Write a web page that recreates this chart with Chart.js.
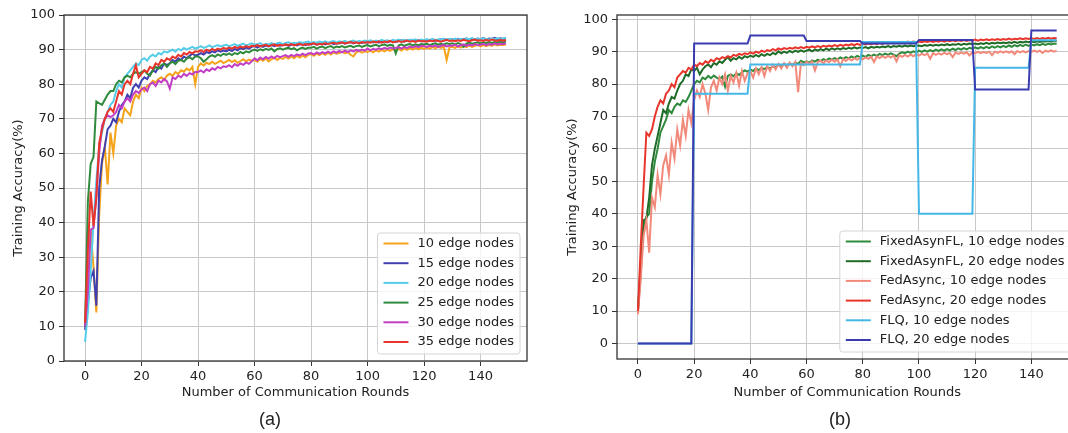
<!DOCTYPE html>
<html>
<head>
<meta charset="utf-8">
<script src="https://cdn.jsdelivr.net/npm/chart.js@4.4.1/dist/chart.umd.min.js"></script>
<style>
  html, body { margin: 0; padding: 0; background: #fff; }
  body { width: 1068px; height: 433px; overflow: hidden; position: relative; }
  canvas { position: absolute; top: 0; }
  #chartA { left: 0; }
  #chartB { left: 552px; }
  .cap { position: absolute; top: 409px; line-height: 20px; font: 18px "Liberation Sans", Arial, sans-serif; color: #222; transform: translateX(-50%); }
</style>
</head>
<body>
<canvas id="chartA" width="540" height="433"></canvas>
<canvas id="chartB" width="540" height="433"></canvas>
<div class="cap" style="left:270px">(a)</div>
<div class="cap" style="left:840px">(b)</div>
<script>
// x positions (communication rounds) and axis ticks
const rounds = Array.from({ length: 150 }, (_, i) => i);
const xTicks = [0, 20, 40, 60, 80, 100, 120, 140];
const yTicks = [0, 10, 20, 30, 40, 50, 60, 70, 80, 90, 100];

// ---- (a) number of edge nodes ----
const labelsA = ['10 edge nodes', '15 edge nodes', '20 edge nodes', '25 edge nodes', '30 edge nodes', '35 edge nodes'];
const colorsA = ['#f5a31a', '#4040b0', '#55cde8', '#2f8a3c', '#c23fc5', '#e8352b'];

const nodes10 = [
  10, 22, 38, 27, 14, 42, 57, 62, 51, 66,
  60, 68, 70, 69, 73, 72, 71, 75, 77, 76,
  79, 78, 79.5, 80, 81, 80.5, 81.5, 82, 81.2, 82.5,
  83, 82.4, 83.5, 83, 84, 83.6, 84.5, 84, 85, 80,
  85, 86, 85.4, 86.2, 85.8, 86.5, 85.9, 86.3, 86.8, 86.1,
  86.5, 87, 86.4, 86.9, 86.2, 86.7, 87.2, 86.6, 87.1, 86.8,
  87, 86.5, 87.3, 86.8, 87.5, 86.6, 87.2, 87.7, 87, 87.6,
  87.3, 87.9, 87.4, 88, 87.5, 88.2, 87.7, 88.3, 87.8, 88.5,
  88.7, 88.2, 88.8, 88.4, 89, 88.5, 89.1, 88.6, 89.2, 88.8,
  89, 89.4, 88.9, 89.3, 88.5, 88, 89.2, 89.6, 89.1, 89.5,
  89.3, 89.7, 89.2, 89.8, 89.4, 89.9, 89.5, 90, 89.6, 90.1,
  89.8, 90.2, 89.7, 90.3, 89.9, 90.4, 90, 90.5, 90.1, 90.6,
  90.2, 90.6, 90.3, 90.7, 90.4, 90.8, 90.5, 90.9, 87, 90.6,
  90.8, 90.5, 91, 90.6, 91.1, 90.7, 91.2, 90.8, 91.1, 91.3,
  90.9, 91.3, 91, 91.4, 91.1, 91.5, 91.2, 91.4, 91.3, 91.5
];
const nodes15 = [
  9, 17, 24, 26, 16, 50, 58, 62, 67, 68,
  70, 69, 72, 74, 75, 77, 76, 79, 80, 79,
  81, 82, 81.5, 83, 84, 83.5, 85, 84.5, 86, 85.5,
  86, 87, 86.5, 87.5, 87, 88, 87.5, 88.2, 88.8, 88.3,
  88.5, 89, 88.6, 89.3, 89, 89.5, 89.2, 89.8, 89.4, 89.7,
  89.5, 90, 89.6, 90.2, 89.8, 90.4, 90.1, 90.6, 90.3, 90.8,
  91, 90.6, 91.1, 90.8, 91.2, 90.9, 91.3, 91, 91.4, 91.1,
  91.3, 91.5, 91.1, 91.4, 91.6, 91.2, 91.5, 91.7, 91.3, 91.6,
  91.5, 91.8, 91.4, 91.7, 91.9, 91.5, 91.8, 92, 91.6, 91.9,
  91.8, 92.1, 91.7, 92, 92.2, 91.8, 92.1, 92.3, 91.9, 92.2,
  92, 92.3, 92.1, 92.4, 92, 92.3, 92.5, 92.1, 92.4, 92.6,
  92.2, 92.5, 92.7, 92.3, 92.6, 92.4, 92.8, 92.5, 92.7, 92.4,
  92.5, 92.8, 92.6, 92.9, 92.5, 92.8, 93, 92.6, 92.9, 92.7,
  93, 92.7, 93.1, 92.8, 93, 93.2, 92.8, 93.1, 92.9, 93.2,
  93, 93.3, 92.9, 93.2, 93.1, 93.4, 93, 93.3, 93.1, 93.3
];
const nodes20 = [
  5.5, 14, 26, 40, 52, 62, 66, 70, 72, 74,
  75, 78, 80, 79, 82, 83, 84, 85, 86, 85.5,
  87, 87.5, 86.8, 88, 88.5, 88, 89, 88.6, 89.5, 89.2,
  89.6, 90, 89.4, 90.2, 89.8, 90.5, 90, 90.4, 90.8, 90.3,
  90.6, 91, 90.5, 90.8, 91.2, 90.7, 91, 91.3, 90.9, 91.2,
  91.4, 91, 91.3, 91.6, 91.1, 91.4, 91.7, 91.2, 91.5, 91.8,
  91.4, 91.6, 91.9, 91.3, 91.7, 91.5, 91.9, 91.6, 91.8, 92,
  91.6, 91.9, 92.1, 91.7, 92, 91.8, 92.2, 91.9, 92.1, 92.3,
  91.9, 92.2, 92, 92.3, 92.1, 92.4, 92, 92.3, 92.5, 92.1,
  92.4, 92.2, 92.5, 92.1, 92.4, 92.6, 92.2, 92.5, 92.3, 92.6,
  92.4, 92.7, 92.3, 92.6, 92.4, 92.8, 92.5, 92.7, 92.4, 92.8,
  92.6, 92.9, 92.5, 92.8, 92.6, 92.9, 92.7, 93, 92.6, 92.9,
  92.7, 93, 92.8, 93.1, 92.7, 93, 92.8, 93.2, 92.9, 93.1,
  92.8, 93.2, 92.9, 93.1, 92.8, 93.2, 93, 93.3, 92.9, 93.2,
  93, 93.3, 93.1, 92.9, 93.2, 93, 93.3, 93.1, 93.2, 93.4
];
const nodes25 = [
  10, 46, 57, 59, 75, 74.5, 74, 75.5, 77, 78,
  78, 80, 81, 80.5, 82, 82.5, 82, 83, 83.5, 83,
  83.5, 84, 83, 82.5, 84, 85, 84.5, 85.5, 86, 85,
  86, 86.5, 85.8, 86.8, 87, 86.5, 87.4, 87.8, 87.2, 88,
  88, 87.5, 86.5, 87.2, 88, 88.4, 87.9, 88.6, 88.2, 88.8,
  88.5, 88.9, 88.4, 89, 88.7, 89.3, 88.9, 89.5, 89.2, 89.7,
  90, 89.6, 90.1, 89.8, 90.2, 89.9, 90.3, 89.5, 90.1, 90.4,
  90, 90.3, 90.5, 90.1, 90.4, 89.8, 90.3, 90.6, 90.2, 90.5,
  90.5, 90.8, 90.3, 90.7, 90.9, 90.4, 90.8, 91, 90.5, 90.9,
  90.7, 91, 90.6, 90.9, 91.1, 90.7, 91, 91.2, 90.8, 91.1,
  91.3, 90.9, 91.2, 91.4, 91, 91.3, 91.5, 91.1, 91.4, 91.2,
  88.9, 91.2, 91.5, 91.1, 91.4, 91.6, 91.2, 91.5, 91.3, 91.6,
  91.5, 91.7, 91.3, 91.6, 91.8, 91.4, 91.7, 91.5, 91.8, 91.6,
  91.8, 91.5, 91.9, 91.6, 90.8, 91.7, 92, 91.7, 91.9, 92.1,
  91.8, 92.1, 91.9, 92.2, 91.9, 92.2, 92, 92.3, 92.1, 92.4
];
const nodes30 = [
  10, 20, 38, 38.5, 48, 60, 68, 70, 71, 70.5,
  71, 72, 74, 73, 75, 76, 75, 77, 78, 77.5,
  78.5, 79, 78, 80, 80.5, 79.5, 81, 80.5, 81.5, 80.8,
  78.7, 82, 81.5, 82.5, 82, 83, 82.4, 83.2, 82.8, 83.5,
  83.5, 84, 83.4, 84.3, 83.8, 84.6, 84.2, 85, 84.6, 85.2,
  85, 85.5, 84.9, 85.8, 85.3, 86, 85.6, 86.3, 85.9, 86.6,
  87.5, 86.9, 87.7, 87.2, 87.9, 87.4, 88, 87.5, 88.2, 87.8,
  88.1, 88.4, 87.9, 88.5, 88.1, 88.6, 88.3, 88.8, 88.4, 88.9,
  89, 88.6, 89.2, 88.8, 89.3, 88.9, 89.4, 89, 89.5, 89.1,
  89.6, 89.2, 89.7, 89.3, 89.8, 89.5, 89.9, 89.6, 90, 89.7,
  90.3, 89.8, 90.2, 90, 90.4, 90.1, 90.5, 90.2, 90.6, 90.3,
  90.5, 90.7, 90.3, 90.8, 90.4, 90.9, 90.6, 91, 90.7, 91.1,
  91, 90.8, 91.1, 90.9, 91.2, 90.8, 91.1, 91.3, 90.9, 91.2,
  91.1, 91.4, 90.9, 91.3, 91.5, 91.1, 91.4, 91.2, 91.6, 91.3,
  91.4, 91.7, 91.3, 91.6, 91.4, 91.8, 91.5, 91.7, 91.6, 91.8
];
const nodes35 = [
  11, 32, 49, 39, 47, 63, 67, 70, 72, 73,
  72, 75, 78, 77, 80, 81, 80, 83, 85.5, 82,
  83, 84, 83.5, 85, 84.5, 86, 85.5, 87, 86.5, 87.5,
  87, 88, 87.5, 88.5, 88, 89, 88.6, 89.3, 88.9, 89.5,
  89.4, 89.8, 89.3, 90, 89.6, 90.2, 89.8, 90.3, 90, 90.5,
  90.2, 90.6, 90.3, 90.8, 90.4, 90.9, 90.6, 91, 90.7, 91.1,
  91, 91.3, 90.9, 91.2, 91.4, 91, 91.3, 91.5, 91.1, 91.4,
  91.2, 91.5, 91.3, 91.6, 91.2, 91.5, 91.7, 91.3, 91.6, 91.4,
  91.6, 91.8, 91.4, 91.7, 91.5, 91.9, 91.6, 91.8, 92, 91.7,
  91.9, 92.1, 91.8, 92, 92.2, 91.9, 92.1, 91.8, 92.2, 92,
  92.2, 92, 92.3, 92.1, 92.4, 92, 92.3, 92.2, 92.5, 92.1,
  92.3, 92.5, 92.2, 92.4, 92.6, 92.3, 92.5, 92.2, 92.6, 92.4,
  92.5, 92.3, 92.6, 92.4, 92.7, 92.5, 92.3, 92.6, 92.8, 92.5,
  92.6, 92.4, 92.7, 92.5, 92.8, 92.6, 92.4, 92.7, 92.9, 92.6,
  92.7, 92.5, 92.8, 92.6, 92.9, 92.7, 92.5, 92.8, 92.6, 92.8
];

// ---- (b) method comparison ----
const labelsB = ['FixedAsynFL, 10 edge nodes', 'FixedAsynFL, 20 edge nodes', 'FedAsync, 10 edge nodes',
                 'FedAsync, 20 edge nodes', 'FLQ, 10 edge nodes', 'FLQ, 20 edge nodes'];
const colorsB = ['#2f8a3c', '#1f6b28', '#f28a7c', '#e8352b', '#45b7e6', '#3b3bb0'];

const fixed10 = [
  10, 22, 36, 39, 40, 50, 56, 60, 65, 67,
  69, 72, 71, 73, 74, 73.5, 75, 74.5, 76, 78,
  80, 81, 80.5, 82, 81.5, 82.5, 81.8, 82.6, 82, 81.5,
  82.3, 79.2, 82.5, 83, 82.4, 83.3, 82.8, 83.6, 84.2, 83.8,
  84.5, 84, 84.8, 84.3, 85, 84.6, 85.2, 84.8, 85.5, 85.1,
  86, 85.6, 86.2, 85.8, 86.4, 86, 86.6, 86.2, 87.2, 86.7,
  87, 86.6, 87.3, 86.9, 87.5, 87.1, 87.7, 87.3, 87.9, 87.5,
  88, 87.6, 88.2, 87.8, 88.3, 87.9, 88.5, 88.1, 88.7, 88.3,
  88.8, 88.4, 89, 88.6, 89.1, 88.7, 89.3, 88.9, 89.4, 89,
  89.5, 89.1, 88.6, 89.4, 89.8, 89.5, 90, 89.6, 90.1, 89.8,
  90.3, 89.9, 90.4, 90, 90.5, 90.1, 90.6, 90.2, 90.7, 90.3,
  90.8, 90.4, 90.9, 90.5, 91, 90.6, 91.1, 90.7, 91.2, 90.9,
  91.3, 90.9, 91.4, 91, 91.5, 91.1, 91.6, 91.2, 91.7, 91.3,
  91.8, 91.4, 91.9, 91.5, 92, 91.6, 92.1, 91.7, 92.2, 91.8,
  92.2, 91.9, 92.3, 92, 92.4, 92.1, 92.4, 92.2, 92.5, 92.4
];
const fixed20 = [
  10, 25, 38, 38.5, 45, 55, 60, 64, 68, 72,
  71, 74, 76, 75.5, 78, 80, 81, 83, 82.5, 84.5,
  84, 85, 83, 84.5, 85.5, 86, 85.2, 86.5, 86, 87,
  86.5, 87.5, 88.3, 87.2, 88, 87.6, 88.4, 87.8, 88.6, 88.2,
  88.8, 88.4, 89, 88.5, 89.2, 88.7, 89.3, 88.9, 89.6, 89.2,
  90.1, 89.5, 90, 89.6, 90.2, 89.8, 90.3, 89.9, 90.4, 90,
  90.3, 90.6, 90.1, 90.7, 90.3, 90.8, 90.4, 90.9, 90.5, 91,
  90.6, 91, 90.7, 91.1, 90.8, 91.2, 90.9, 91.3, 91, 91.3,
  91.1, 91.4, 91, 91.5, 91.2, 91.5, 91.3, 91.6, 91.4, 91.7,
  91.4, 91.7, 91.5, 91.8, 91.5, 91.9, 91.6, 91.9, 91.7, 91.8,
  91.9, 91.7, 92, 91.8, 92.1, 91.8, 92.1, 91.9, 92.2, 92,
  92.3, 92, 92.3, 92.1, 92.4, 92.1, 92.4, 92.2, 92.5, 92.3,
  92.5, 92.3, 92.6, 92.4, 92.7, 92.4, 92.7, 92.5, 92.8, 92.6,
  92.8, 92.6, 92.9, 92.7, 93, 92.7, 93, 92.8, 93.1, 92.9,
  93.1, 92.9, 93.2, 93, 93.2, 93.1, 93.3, 93.1, 93.4, 93.3
];
const fedAsync10 = [
  9, 20, 33, 38, 28, 45, 42, 52, 46, 55,
  58, 52, 62, 57, 66, 61, 69, 64, 72, 68,
  75, 78, 76, 80, 77, 72, 79, 81, 78, 82,
  80, 83, 78, 82.5, 80.5, 83.5, 79.5, 84, 81, 83.2,
  84, 82, 84.8, 83, 85.2, 82.5, 85.5, 84, 86, 84.5,
  86.2, 84.8, 86.4, 85, 86.6, 85.5, 86.8, 77.5, 86.5, 85.8,
  86.9, 86.2, 87, 84.2, 86.8, 87.2, 86.4, 87.3, 86.7, 87.5,
  86.9, 87.6, 85.5, 87.7, 87.1, 87.9, 87.3, 88, 87.5, 88.1,
  87.6, 88.2, 87.8, 88.4, 86.8, 88.5, 88, 88.6, 88.1, 88.7,
  88.2, 88.8, 87, 88.9, 88.4, 89, 88.5, 89.1, 88.6, 89.3,
  88.8, 89.3, 88.9, 89.4, 87.8, 89.5, 89, 89.5, 89.1, 89.6,
  89.2, 89.6, 88.3, 89.7, 89.3, 89.7, 89.4, 89.8, 88.8, 89.8,
  89.5, 89.9, 89.5, 89.9, 89.6, 90, 88.9, 90, 89.6, 90.1,
  89.7, 90.1, 89.7, 90.1, 89.2, 90.2, 89.8, 90.2, 89.8, 90.2,
  89.9, 90.3, 89.9, 90.3, 89.6, 90.3, 90, 90.4, 90, 90.3
];
const fedAsync20 = [
  10, 30, 48, 65, 64, 66, 70, 73, 75, 74,
  77, 78, 80, 79, 82, 83, 84, 83.5, 85, 84.5,
  86, 85.5, 86.5, 86, 87, 86.5, 87.5, 87, 88, 87.6,
  88.3, 88, 88.6, 88.2, 89, 88.7, 89.3, 89, 89.5, 89.2,
  89.8, 89.4, 90, 89.6, 90.3, 89.9, 90.5, 90.2, 90.8, 90.4,
  91, 90.6, 91.1, 90.8, 91.2, 90.9, 91.3, 91, 91.4, 91.1,
  91.5, 91.2, 91.6, 91.3, 91.7, 91.4, 91.8, 91.5, 91.9, 91.6,
  92, 91.7, 92.1, 91.8, 92.2, 91.9, 92.3, 92, 92.4, 92.1,
  92.4, 92.2, 92.5, 92.3, 92.6, 92.3, 92.7, 92.4, 92.8, 92.5,
  92.8, 92.6, 92.9, 92.6, 93, 92.7, 93.1, 92.8, 93.1, 92.9,
  93.1, 92.9, 93.2, 93, 93.3, 93, 93.3, 93.1, 93.4, 93.1,
  93.4, 93.2, 93.5, 93.2, 93.5, 93.3, 93.6, 93.3, 93.6, 93.4,
  93.7, 93.4, 93.7, 93.5, 93.8, 93.5, 93.8, 93.6, 93.9, 93.6,
  93.9, 93.7, 94, 93.7, 94, 93.8, 94.1, 93.8, 94.1, 93.9,
  94.1, 93.9, 94.2, 93.9, 94.2, 94, 94.3, 94, 94.2, 94.1
];
const flq10 = [
  0, 0, 0, 0, 0, 0, 0, 0, 0, 0,
  0, 0, 0, 0, 0, 0, 0, 0, 0, 0,
  77, 77, 77, 77, 77, 77, 77, 77, 77, 77,
  77, 77, 77, 77, 77, 77, 77, 77, 77, 77,
  86, 86, 86, 86, 86, 86, 86, 86, 86, 86,
  86, 86, 86, 86, 86, 86, 86, 86, 86, 86,
  86, 86, 86, 86, 86, 86, 86, 86, 86, 86,
  86, 86, 86, 86, 86, 86, 86, 86, 86, 86,
  93, 93, 93, 93, 93, 93, 93, 93, 93, 93,
  93, 93, 93, 93, 93, 93, 93, 93, 93, 93,
  40, 40, 40, 40, 40, 40, 40, 40, 40, 40,
  40, 40, 40, 40, 40, 40, 40, 40, 40, 40,
  85, 85, 85, 85, 85, 85, 85, 85, 85, 85,
  85, 85, 85, 85, 85, 85, 85, 85, 85, 85,
  93.5, 93.5, 93.5, 93.5, 93.5, 93.5, 93.5, 93.5, 93.5, 93.5
];
const flq20 = [
  0, 0, 0, 0, 0, 0, 0, 0, 0, 0,
  0, 0, 0, 0, 0, 0, 0, 0, 0, 0,
  92.5, 92.5, 92.5, 92.5, 92.5, 92.5, 92.5, 92.5, 92.5, 92.5,
  92.5, 92.5, 92.5, 92.5, 92.5, 92.5, 92.5, 92.5, 92.5, 92.5,
  95, 95, 95, 95, 95, 95, 95, 95, 95, 95,
  95, 95, 95, 95, 95, 95, 95, 95, 95, 95,
  93.3, 93.3, 93.3, 93.3, 93.3, 93.3, 93.3, 93.3, 93.3, 93.3,
  93.3, 93.3, 93.3, 93.3, 93.3, 93.3, 93.3, 93.3, 93.3, 93.3,
  92.5, 92.5, 92.5, 92.5, 92.5, 92.5, 92.5, 92.5, 92.5, 92.5,
  92.5, 92.5, 92.5, 92.5, 92.5, 92.5, 92.5, 92.5, 92.5, 92.5,
  93.6, 93.6, 93.6, 93.6, 93.6, 93.6, 93.6, 93.6, 93.6, 93.6,
  93.6, 93.6, 93.6, 93.6, 93.6, 93.6, 93.6, 93.6, 93.6, 93.6,
  78.3, 78.3, 78.3, 78.3, 78.3, 78.3, 78.3, 78.3, 78.3, 78.3,
  78.3, 78.3, 78.3, 78.3, 78.3, 78.3, 78.3, 78.3, 78.3, 78.3,
  96.5, 96.5, 96.5, 96.5, 96.5, 96.5, 96.5, 96.5, 96.5, 96.5
];

const FONT = '13px "DejaVu Sans"';
const tickFont = { family: 'DejaVu Sans', size: 13 };
const textColor = '#222';

// draws the full axes box and a matplotlib-like legend in the lower right corner
const frameAndLegend = {
  id: 'frameAndLegend',
  afterDatasetsDraw(chart) {
    const { ctx, chartArea: a } = chart;
    ctx.save();
    ctx.strokeStyle = '#333';
    ctx.lineWidth = 1.3;
    ctx.strokeRect(a.left, a.top, a.right - a.left, a.bottom - a.top);

    const sets = chart.data.datasets;
    ctx.font = FONT;
    const textW = Math.max(...sets.map(d => ctx.measureText(d.label).width));
    const rowH = 19.7;
    const w = 40 + textW + 6;
    const h = 10.5 + rowH * (sets.length - 1) + 12;
    const x = a.right - 7 - w;
    const y = a.bottom - 7 - h;
    ctx.beginPath();
    ctx.roundRect(x, y, w, h, 3);
    ctx.fillStyle = 'rgba(255,255,255,0.8)';
    ctx.fill();
    ctx.strokeStyle = '#d4d4d4';
    ctx.lineWidth = 1;
    ctx.stroke();
    ctx.textBaseline = 'middle';
    ctx.textAlign = 'left';
    sets.forEach((d, i) => {
      const cy = y + 10.5 + i * rowH;
      ctx.strokeStyle = d.borderColor;
      ctx.lineWidth = 2;
      ctx.beginPath();
      ctx.moveTo(x + 6, cy);
      ctx.lineTo(x + 31, cy);
      ctx.stroke();
      ctx.fillStyle = textColor;
      ctx.fillText(d.label, x + 40, cy);
    });
    ctx.restore();
  }
};

function makeChart(id, labels, colors, series, yMin, yMax, yAxisWidth, yTitleGap, xAxisHeight, rightPad) {
  return new Chart(document.getElementById(id), {
    type: 'line',
    data: {
      datasets: series.map((vals, i) => ({
        label: labels[i],
        data: vals.map((v, j) => ({ x: rounds[j], y: v })),
        borderColor: colors[i],
        borderWidth: 2,
        pointRadius: 0,
        tension: 0,
        fill: false,
        order: series.length - i
      }))
    },
    options: {
      responsive: false,
      animation: false,
      devicePixelRatio: 1,
      layout: { padding: { left: 0, top: 15, right: rightPad, bottom: 33 } },
      plugins: { legend: { display: false }, tooltip: { enabled: false } },
      scales: {
        x: {
          type: 'linear',
          min: -7.45,
          max: 156.45,
          afterBuildTicks: s => { s.ticks = xTicks.map(v => ({ value: v })); },
          afterFit: s => { s.height = xAxisHeight; },
          ticks: { font: tickFont, color: textColor, padding: 3, maxRotation: 0, autoSkip: false },
          grid: { color: '#c8c8c8', tickColor: '#333', tickLength: 5 },
          border: { display: false },
          title: { display: true, text: 'Number of Communication Rounds', font: tickFont, color: textColor, padding: 0 }
        },
        y: {
          min: yMin,
          max: yMax,
          afterBuildTicks: s => { s.ticks = yTicks.map(v => ({ value: v })); },
          afterFit: s => { s.width = yAxisWidth; },
          ticks: { font: tickFont, color: textColor, padding: 4, autoSkip: false },
          grid: { color: '#c8c8c8', tickColor: '#333', tickLength: 5 },
          border: { display: false },
          title: { display: true, text: 'Training Accuracy(%)', font: tickFont, color: textColor, padding: { top: yTitleGap, bottom: 0 } }
        }
      }
    },
    plugins: [frameAndLegend]
  });
}

makeChart('chartA', labelsA, colorsA, [nodes10, nodes15, nodes20, nodes25, nodes30, nodes35], 0, 100, 64, 10.5, 39, 13);
makeChart('chartB', labelsB, colorsB, [fixed10, fixed20, fedAsync10, fedAsync20, flq10, flq20], -4.8, 101.3, 65, 12.5, 41, 14.4);
</script>
</body>
</html>
